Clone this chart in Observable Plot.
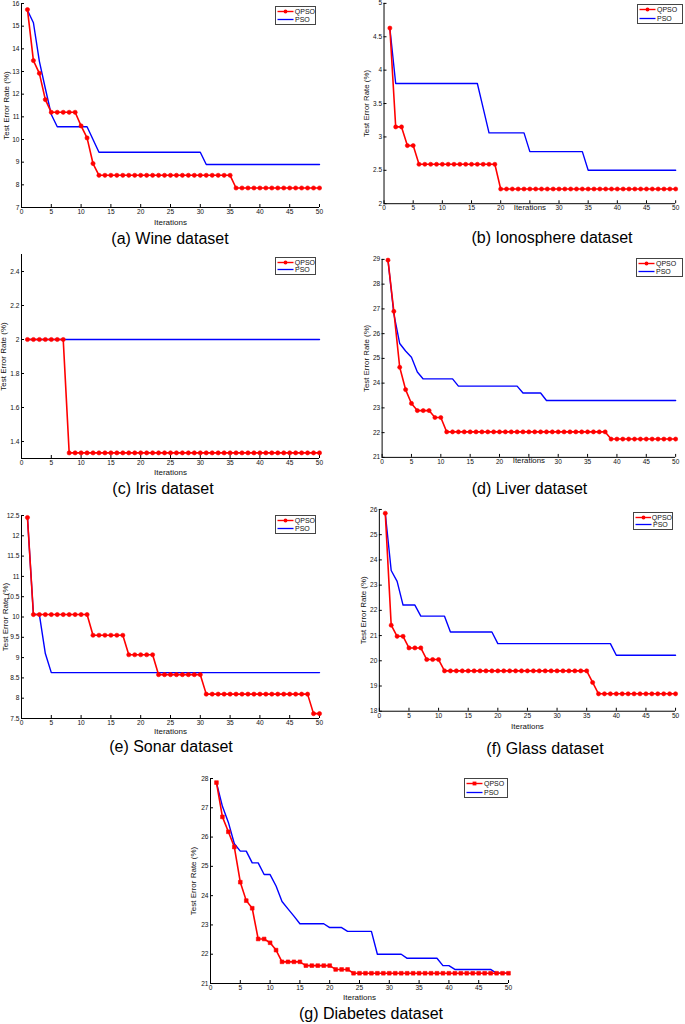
<!DOCTYPE html>
<html><head><meta charset="utf-8">
<script src="https://cdn.jsdelivr.net/npm/d3@7"></script>
<script src="https://cdn.jsdelivr.net/npm/@observablehq/plot@0.6"></script>
<style>
body{margin:0;background:#fff;}
#root{position:relative;width:685px;height:1024px;overflow:hidden;font-family:"Liberation Sans",Arial,Helvetica,sans-serif;background:#fff;}
.panel{position:absolute;}
.panel svg{overflow:visible;}
.caption{position:absolute;font-size:16px;line-height:16px;white-space:nowrap;transform:translateX(-50%);color:#000;}
.legend{position:absolute;border:1px solid #444;background:#fff;box-sizing:border-box;font-size:7px;line-height:7px;display:flex;flex-direction:column;justify-content:space-evenly;padding-left:1px;color:#111;}
.legend .row{display:flex;align-items:center;white-space:nowrap;}
.legend svg{margin-right:1px;}
</style></head><body><div id="root"></div>
<script>
// ---------- data ----------
const iterations = d3.range(1, 51);
const xTicks = [0, 5, 10, 15, 20, 25, 30, 35, 40, 45, 50];
const seriesNames = ["QPSO", "PSO"];
const yLabel = "Test Error Rate (%)";
const xLabel = "Iterations";

const wineQPSO = [15.73,13.48,12.92,11.76,11.2,11.2,11.2,11.2,11.2,10.6,10.07,8.94,8.42,8.42,8.42,8.42,8.42,8.42,8.42,8.42,8.42,8.42,8.42,8.42,8.42,8.42,8.42,8.42,8.42,8.42,8.42,8.42,8.42,8.42,8.42,7.86,7.86,7.86,7.86,7.86,7.86,7.86,7.86,7.86,7.86,7.86,7.86,7.86,7.86,7.86];
const winePSO = [15.7,15.15,13.45,12.25,11.1,10.56,10.56,10.56,10.56,10.56,10.56,10.0,9.44,9.44,9.44,9.44,9.44,9.44,9.44,9.44,9.44,9.44,9.44,9.44,9.44,9.44,9.44,9.44,9.44,9.44,8.9,8.9,8.9,8.9,8.9,8.9,8.9,8.9,8.9,8.9,8.9,8.9,8.9,8.9,8.9,8.9,8.9,8.9,8.9,8.9];
const wineTicks = [7, 8, 9, 10, 11, 12, 13, 14, 15, 16];
const wineRange = [7, 16];

const ionoQPSO = [4.63,3.15,3.15,2.87,2.87,2.59,2.59,2.59,2.59,2.59,2.59,2.59,2.59,2.59,2.59,2.59,2.59,2.59,2.59,2.22,2.22,2.22,2.22,2.22,2.22,2.22,2.22,2.22,2.22,2.22,2.22,2.22,2.22,2.22,2.22,2.22,2.22,2.22,2.22,2.22,2.22,2.22,2.22,2.22,2.22,2.22,2.22,2.22,2.22,2.22];
const ionoPSO = [4.63,3.8,3.8,3.8,3.8,3.8,3.8,3.8,3.8,3.8,3.8,3.8,3.8,3.8,3.8,3.8,3.43,3.06,3.06,3.06,3.06,3.06,3.06,3.06,2.78,2.78,2.78,2.78,2.78,2.78,2.78,2.78,2.78,2.78,2.5,2.5,2.5,2.5,2.5,2.5,2.5,2.5,2.5,2.5,2.5,2.5,2.5,2.5,2.5,2.5];
const ionoTicks = [2, 2.5, 3, 3.5, 4, 4.5, 5];
const ionoRange = [2, 5];

const irisQPSO = [2,2,2,2,2,2,2,1.333,1.333,1.333,1.333,1.333,1.333,1.333,1.333,1.333,1.333,1.333,1.333,1.333,1.333,1.333,1.333,1.333,1.333,1.333,1.333,1.333,1.333,1.333,1.333,1.333,1.333,1.333,1.333,1.333,1.333,1.333,1.333,1.333,1.333,1.333,1.333,1.333,1.333,1.333,1.333,1.333,1.333,1.333];
const irisPSO = [2,2,2,2,2,2,2,2,2,2,2,2,2,2,2,2,2,2,2,2,2,2,2,2,2,2,2,2,2,2,2,2,2,2,2,2,2,2,2,2,2,2,2,2,2,2,2,2,2,2];
const irisTicks = [1.4, 1.6, 1.8, 2, 2.2, 2.4];
const irisRange = [1.3, 2.5];

const liverQPSO = [28.97,26.9,24.64,23.74,23.18,22.89,22.89,22.89,22.61,22.61,22.03,22.03,22.03,22.03,22.03,22.03,22.03,22.03,22.03,22.03,22.03,22.03,22.03,22.03,22.03,22.03,22.03,22.03,22.03,22.03,22.03,22.03,22.03,22.03,22.03,22.03,22.03,22.03,21.74,21.74,21.74,21.74,21.74,21.74,21.74,21.74,21.74,21.74,21.74,21.74];
const liverPSO = [28.97,26.8,25.6,25.3,25.05,24.45,24.17,24.17,24.17,24.17,24.17,24.17,23.88,23.88,23.88,23.88,23.88,23.88,23.88,23.88,23.88,23.88,23.88,23.6,23.6,23.6,23.6,23.3,23.3,23.3,23.3,23.3,23.3,23.3,23.3,23.3,23.3,23.3,23.3,23.3,23.3,23.3,23.3,23.3,23.3,23.3,23.3,23.3,23.3,23.3];
const liverTicks = [21, 22, 23, 24, 25, 26, 27, 28, 29];
const liverRange = [21, 29];

const sonarQPSO = [12.45,10.06,10.06,10.06,10.06,10.06,10.06,10.06,10.06,10.06,10.06,9.55,9.55,9.55,9.55,9.55,9.55,9.07,9.07,9.07,9.07,9.07,8.58,8.58,8.58,8.58,8.58,8.58,8.58,8.58,8.1,8.1,8.1,8.1,8.1,8.1,8.1,8.1,8.1,8.1,8.1,8.1,8.1,8.1,8.1,8.1,8.1,8.1,7.62,7.62];
const sonarPSO = [12.45,10.06,10.06,9.1,8.63,8.63,8.63,8.63,8.63,8.63,8.63,8.63,8.63,8.63,8.63,8.63,8.63,8.63,8.63,8.63,8.63,8.63,8.63,8.63,8.63,8.63,8.63,8.63,8.63,8.63,8.63,8.63,8.63,8.63,8.63,8.63,8.63,8.63,8.63,8.63,8.63,8.63,8.63,8.63,8.63,8.63,8.63,8.63,8.63,8.63];
const sonarTicks = [7.5, 8, 8.5, 9, 9.5, 10, 10.5, 11, 11.5, 12, 12.5];
const sonarRange = [7.5, 12.5];

const glassQPSO = [25.85,21.41,20.97,20.97,20.51,20.51,20.51,20.05,20.05,20.05,19.6,19.6,19.6,19.6,19.6,19.6,19.6,19.6,19.6,19.6,19.6,19.6,19.6,19.6,19.6,19.6,19.6,19.6,19.6,19.6,19.6,19.6,19.6,19.6,19.6,19.14,18.69,18.69,18.69,18.69,18.69,18.69,18.69,18.69,18.69,18.69,18.69,18.69,18.69,18.69];
const glassPSO = [25.85,23.58,23.15,22.21,22.21,22.21,21.77,21.77,21.77,21.77,21.77,21.14,21.14,21.14,21.14,21.14,21.14,21.14,21.14,20.68,20.68,20.68,20.68,20.68,20.68,20.68,20.68,20.68,20.68,20.68,20.68,20.68,20.68,20.68,20.68,20.68,20.68,20.68,20.68,20.22,20.22,20.22,20.22,20.22,20.22,20.22,20.22,20.22,20.22,20.22];
const glassTicks = [18, 19, 20, 21, 22, 23, 24, 25, 26];
const glassRange = [18, 26];

const diabQPSO = [27.86,26.69,26.18,25.66,24.46,23.83,23.57,22.52,22.52,22.39,22.14,21.74,21.74,21.74,21.74,21.61,21.61,21.61,21.61,21.61,21.48,21.48,21.48,21.35,21.35,21.35,21.35,21.35,21.35,21.35,21.35,21.35,21.35,21.35,21.35,21.35,21.35,21.35,21.35,21.35,21.35,21.35,21.35,21.35,21.35,21.35,21.35,21.35,21.35,21.35];
const diabPSO = [27.86,27.05,26.5,25.77,25.52,25.52,25.12,25.12,24.72,24.72,24.33,23.8,23.55,23.3,23.04,23.04,23.04,23.04,23.04,22.91,22.91,22.91,22.78,22.78,22.78,22.78,22.78,22.0,22.0,22.0,22.0,22.0,21.86,21.86,21.86,21.86,21.86,21.86,21.61,21.61,21.48,21.48,21.48,21.48,21.48,21.48,21.48,21.35,21.35,21.35];
const diabTicks = [21, 22, 23, 24, 25, 26, 27, 28];
const diabRange = [21, 28];

const captions = ["(a) Wine dataset", "(b) Ionosphere dataset", "(c) Iris dataset", "(d) Liver dataset", "(e) Sonar dataset", "(f) Glass dataset", "(g) Diabetes dataset"];

// ---------- layout (page pixels) ----------
const panels = [
  {q: wineQPSO,  p: winePSO,  ticks: wineTicks,  range: wineRange,  cap: captions[0], box: {l:21, r:319, t:3, b:207},   ylab:18, xlab:17,  hide25:false, legend:[275,6,41,19],   capPos:[170,244],  sym:"circle"},
  {q: ionoQPSO,  p: ionoPSO,  ticks: ionoTicks,  range: ionoRange,  cap: captions[1], box: {l:384, r:681, t:3, b:207},  ylab:21, xlab:6.5, hide25:true,  legend:[637,4,46,20],   capPos:[552,243.5],sym:"circle"},
  {q: irisQPSO,  p: irisPSO,  ticks: irisTicks,  range: irisRange,  cap: captions[2], box: {l:21, r:319, t:254, b:458}, ylab:21, xlab:16,  hide25:false, legend:[275,257,41,18], capPos:[163,494],  sym:"circle"},
  {q: liverQPSO, p: liverPSO, ticks: liverTicks, range: liverRange, cap: captions[3], box: {l:382, r:680, t:259, b:460},ylab:19, xlab:6,   hide25:true,  legend:[636,258,47,19], capPos:[529.5,494],sym:"circle"},
  {q: sonarQPSO, p: sonarPSO, ticks: sonarTicks, range: sonarRange, cap: captions[4], box: {l:21, r:319, t:515, b:718}, ylab:19, xlab:15,  hide25:false, legend:[275,515,41,19], capPos:[171,752],  sym:"circle"},
  {q: glassQPSO, p: glassPSO, ticks: glassTicks, range: glassRange, cap: captions[5], box: {l:379, r:677, t:509, b:712},ylab:19, xlab:18,  hide25:false, legend:[633,512,40,18], capPos:[545,754],  sym:"circle"},
  {q: diabQPSO,  p: diabPSO,  ticks: diabTicks,  range: diabRange,  cap: captions[6], box: {l:210, r:508, t:778, b:983},ylab:20, xlab:16,  hide25:false, legend:[464,778,44,20], capPos:[371,1019], sym:"square"}
];

const RED = "#ff0000", BLUE = "#0000ff";
const ML = 26, MR = 10, MT = 6, MB = 26;
const TICK_FS = 6.6, LABEL_FS = 8;
const root = document.getElementById("root");

function makePanel(cfg) {
  const qRows = iterations.map((it, i) => ({it, v: cfg.q[i]}));
  const pRows = iterations.map((it, i) => ({it, v: cfg.p[i]}));
  const w = cfg.box.r - cfg.box.l, h = cfg.box.b - cfg.box.t;
  const xLabTicks = cfg.hide25 ? xTicks.filter(d => d !== 25) : xTicks;
  const chart = Plot.plot({
    width: w + ML + MR,
    height: h + MT + MB,
    marginLeft: ML, marginRight: MR, marginTop: MT, marginBottom: MB,
    style: {overflow: "visible", fontFamily: "'Liberation Sans', Arial, Helvetica, sans-serif", background: "transparent", color: "#111"},
    x: {domain: [0, 50], label: null},
    y: {domain: cfg.range, label: null},
    marks: [
      Plot.axisX({ticks: xTicks, tickSize: -3, tickFormat: () => "", label: null, stroke: "#000"}),
      Plot.axisY({ticks: cfg.ticks, tickSize: -3, tickFormat: () => "", label: null, stroke: "#000"}),
      Plot.axisX({ticks: xLabTicks, tickSize: 0, tickPadding: 2, fontSize: TICK_FS, tickFormat: d => String(d), label: null}),
      Plot.axisY({ticks: cfg.ticks, tickSize: 0, tickPadding: 2, fontSize: TICK_FS, tickFormat: d => String(d), label: null}),
      Plot.axisX({ticks: [], tickSize: 0, fontSize: LABEL_FS, label: xLabel, labelAnchor: "center", labelArrow: "none", labelOffset: cfg.xlab}),
      Plot.axisY({ticks: [], tickSize: 0, fontSize: LABEL_FS, label: yLabel, labelAnchor: "center", labelArrow: "none", labelOffset: cfg.ylab}),
      Plot.ruleY([cfg.range[0]], {stroke: "#000", strokeWidth: 1}),
      Plot.ruleX([0], {stroke: "#000", strokeWidth: 1}),
      Plot.line(pRows, {x: "it", y: "v", stroke: BLUE, strokeWidth: 1.4}),
      Plot.line(qRows, {x: "it", y: "v", stroke: RED, strokeWidth: 1.6}),
      Plot.dot(qRows, {x: "it", y: "v", r: 2.1, fill: RED, stroke: RED, strokeWidth: 0.6, symbol: cfg.sym})
    ]
  });
  const div = document.createElement("div");
  div.className = "panel";
  div.style.left = (cfg.box.l - ML) + "px";
  div.style.top = (cfg.box.t - MT) + "px";
  div.appendChild(chart);
  root.appendChild(div);

  // legend
  const lg = document.createElement("div");
  lg.className = "legend";
  const [lx, ly, lw, lh] = cfg.legend;
  Object.assign(lg.style, {left: lx + "px", top: ly + "px", width: lw + "px", height: lh + "px"});
  const marker = cfg.sym === "square"
    ? `<rect x="6.6" y="1.6" width="3.8" height="3.8" fill="${RED}"/>`
    : `<circle cx="8.5" cy="3.5" r="1.9" fill="${RED}"/>`;
  lg.innerHTML =
    `<div class="row"><svg width="17" height="7"><line x1="0.5" x2="16.5" y1="3.5" y2="3.5" stroke="${RED}" stroke-width="1.4"/>${marker}</svg><span>${seriesNames[0]}</span></div>` +
    `<div class="row"><svg width="17" height="7"><line x1="0.5" x2="16.5" y1="3.5" y2="3.5" stroke="${BLUE}" stroke-width="1.3"/></svg><span>${seriesNames[1]}</span></div>`;
  root.appendChild(lg);

  // caption
  const cap = document.createElement("div");
  cap.className = "caption";
  cap.textContent = cfg.cap;
  cap.style.left = cfg.capPos[0] + "px";
  cap.style.top = (cfg.capPos[1] - 13.3) + "px";
  root.appendChild(cap);
}

panels.forEach(makePanel);
</script>
</body></html>
